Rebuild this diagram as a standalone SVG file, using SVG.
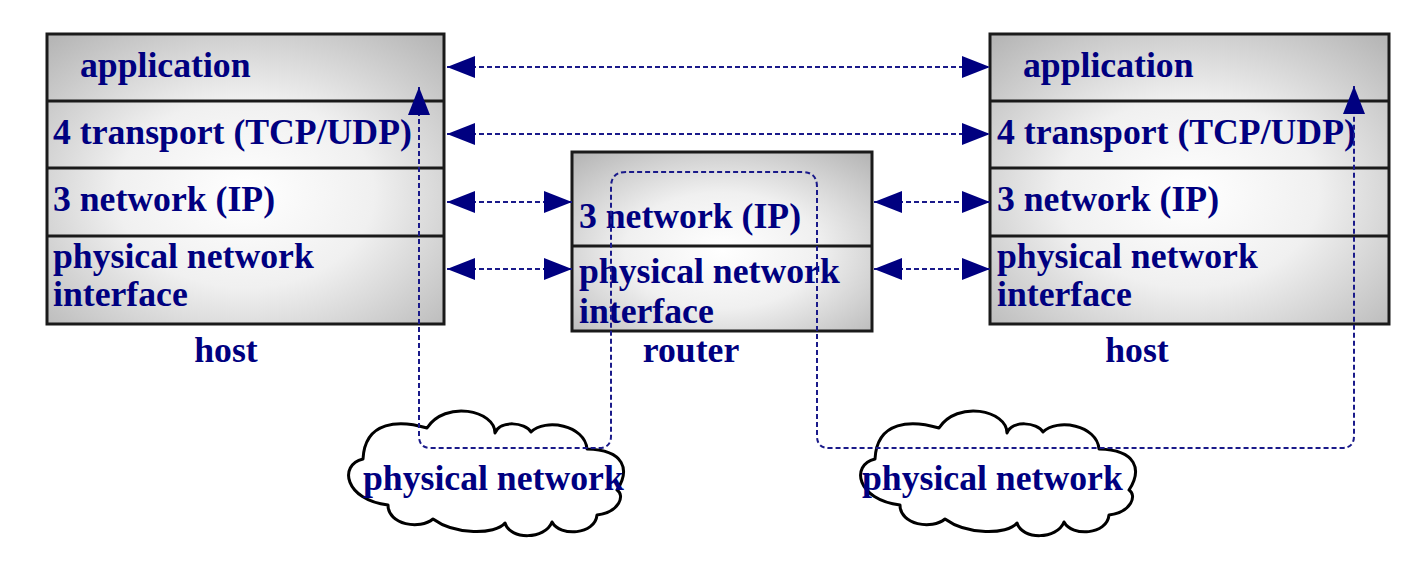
<svg xmlns="http://www.w3.org/2000/svg" width="1428" height="572" viewBox="0 0 1428 572">
<style>
  .t { font-family: "Liberation Serif", "Times New Roman", serif; font-weight: bold; font-size: 35.7px; fill: #000080; }
  .c { text-anchor: middle; }
  .box { fill: url(#g); stroke: #1a1a1a; stroke-width: 3; }
  .div { stroke: #1a1a1a; stroke-width: 3; }
  .cloud { fill: #fff; stroke: #000; stroke-width: 3; stroke-linejoin: round; }
  .dl { fill: none; stroke: #1a1a8a; stroke-width: 2; stroke-dasharray: 5 3; }
</style>
<defs>
  <radialGradient id="g" cx="50%" cy="55%" r="72%">
    <stop offset="0" stop-color="#ffffff"/>
    <stop offset="0.45" stop-color="#f0f0f0"/>
    <stop offset="1" stop-color="#b6b6b6"/>
  </radialGradient>
  <marker id="ah" markerUnits="userSpaceOnUse" markerWidth="28" markerHeight="22" refX="28" refY="11" orient="auto-start-reverse" viewBox="0 0 28 22">
    <path d="M0,0 L28,11 L0,22 z" fill="#000080"/>
  </marker>
  <path id="cloudShape" d="M363,459 C338,465 345,500 388,505 C388,525 420,530 433,519 C455,535 495,535 505,523 C510,540 545,540 552,522 C560,537 595,535 597,515 C620,512 625,495 617,490 C630,470 625,450 587,449 C585,425 545,418 531,432 C525,422 500,420 495,433 C495,410 445,400 427,428 C400,420 365,420 363,459 Z"/>
</defs>

<g id="host-left">
  <rect class="box" x="47" y="34" width="397" height="290"/>
  <line class="div" x1="47" y1="101" x2="444" y2="101"/>
  <line class="div" x1="47" y1="168" x2="444" y2="168"/>
  <line class="div" x1="47" y1="236" x2="444" y2="236"/>
  <text class="t" x="80" y="77">application</text>
  <text class="t" x="53" y="144">4 transport (TCP/UDP)</text>
  <text class="t" x="53" y="211">3 network (IP)</text>
  <text class="t" x="53" y="268">physical network</text>
  <text class="t" x="53" y="306">interface</text>
  <text class="t c" x="226" y="362">host</text>
</g>

<g id="router">
  <rect class="box" x="572" y="152" width="300" height="179"/>
  <line class="div" x1="572" y1="246" x2="872" y2="246"/>
  <text class="t" x="579" y="228">3 network (IP)</text>
  <text class="t" x="579" y="283">physical network</text>
  <text class="t" x="579" y="323">interface</text>
  <text class="t c" x="691" y="362">router</text>
</g>

<g id="host-right">
  <rect class="box" x="990" y="34" width="399" height="290"/>
  <line class="div" x1="990" y1="101" x2="1389" y2="101"/>
  <line class="div" x1="990" y1="168" x2="1389" y2="168"/>
  <line class="div" x1="990" y1="236" x2="1389" y2="236"/>
  <text class="t" x="1023" y="77">application</text>
  <text class="t" x="997" y="144">4 transport (TCP/UDP)</text>
  <text class="t" x="997" y="211">3 network (IP)</text>
  <text class="t" x="997" y="268">physical network</text>
  <text class="t" x="997" y="306">interface</text>
  <text class="t c" x="1137" y="362">host</text>
</g>

<g id="cloud-left">
  <use href="#cloudShape" class="cloud"/>
  <text class="t" x="363" y="490">physical network</text>
</g>

<g id="cloud-right">
  <use href="#cloudShape" class="cloud" transform="translate(512,0)"/>
  <text class="t" x="862" y="490">physical network</text>
</g>

<g id="connectors">
  <line class="dl" x1="447" y1="67" x2="990" y2="67" marker-start="url(#ah)" marker-end="url(#ah)"/>
  <line class="dl" x1="447" y1="134" x2="990" y2="134" marker-start="url(#ah)" marker-end="url(#ah)"/>
  <line class="dl" x1="447" y1="202" x2="572" y2="202" marker-start="url(#ah)" marker-end="url(#ah)"/>
  <line class="dl" x1="447" y1="269" x2="572" y2="269" marker-start="url(#ah)" marker-end="url(#ah)"/>
  <line class="dl" x1="874" y1="202" x2="990" y2="202" marker-start="url(#ah)" marker-end="url(#ah)"/>
  <line class="dl" x1="874" y1="269" x2="990" y2="269" marker-start="url(#ah)" marker-end="url(#ah)"/>
  <path class="dl" d="M419,87 V436 Q419,448 431,448 H599 Q611,448 611,436 V187 Q611,172 626,172 H802 Q817,172 817,187 V436 Q817,448 829,448 H1342 Q1354,448 1354,436 V86" marker-start="url(#ah)" marker-end="url(#ah)"/>
</g>
</svg>
